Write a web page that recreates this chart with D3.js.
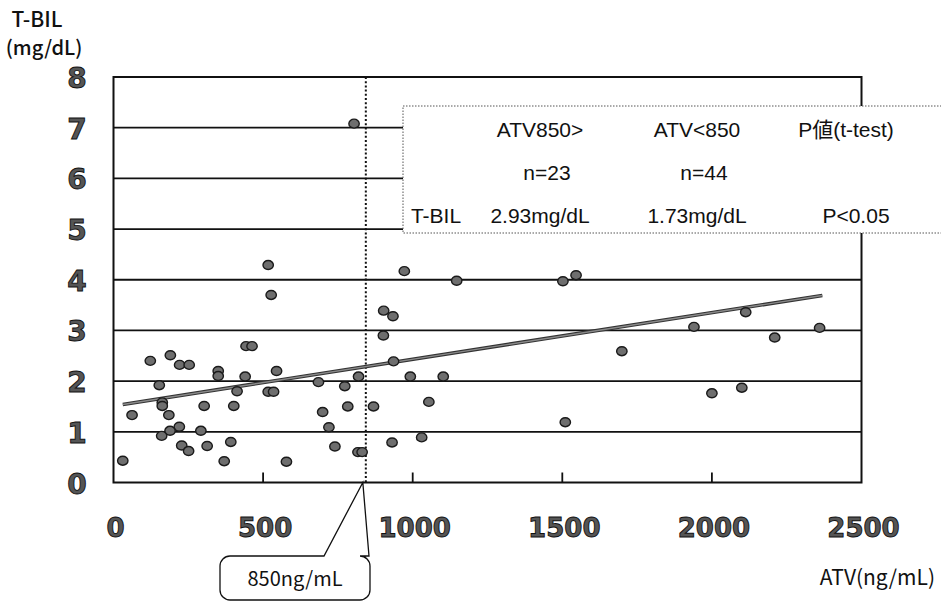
<!DOCTYPE html>
<html>
<head>
<meta charset="utf-8">
<script src="https://cdn.jsdelivr.net/npm/d3@7"></script>
<style>
  body { margin: 0; background: #fff; }
  svg { display: block; }
</style>
</head>
<body>
<svg id="chart" width="941" height="604"></svg>
<script>
// ATV (ng/mL) vs T-BIL (mg/dL)
var atv = [517,527,903,934,902,443,463,123,190,221,253,350,350,545,936,440,819,153,413,517,535,685,773,163,163,
           303,402,62,185,699,783,869,220,189,161,292,720,228,251,313,392,740,817,831,931,31,370,578,804,972,
           1147,1502,1546,992,1102,1054,1699,1510,1030,2113,1940,2360,2210,2100,2000];
var tbil = [4.29,3.70,3.39,3.28,2.90,2.69,2.69,2.40,2.51,2.32,2.32,2.20,2.10,2.20,2.39,2.09,2.09,1.92,1.80,1.79,1.79,1.98,1.90,1.58,1.51,
            1.51,1.51,1.33,1.33,1.39,1.50,1.50,1.10,1.02,0.92,1.02,1.09,0.73,0.62,0.72,0.80,0.71,0.60,0.60,0.79,0.43,0.42,0.41,7.08,4.17,
            3.98,3.97,4.09,2.09,2.09,1.59,2.59,1.19,0.89,3.36,3.07,3.05,2.86,1.87,1.76];

var xTicks = [0, 500, 1000, 1500, 2000, 2500];
var yTicks = [0, 1, 2, 3, 4, 5, 6, 7, 8];

// trend line end points
var trendAtv = [31, 2369];
var trendTbil = [1.54, 3.69];

var threshold = 850;

// summary table
var tableHead = ["", "ATV850>", "ATV<850", "P値(t-test)"];
var tableN = ["", "n=23", "n=44", ""];
var tableRow = ["T-BIL", "2.93mg/dL", "1.73mg/dL", "P<0.05"];

var svg = d3.select("#chart");

var x = d3.scaleLinear().domain([0, 2500]).range([113.5, 861.5]);
var y = d3.scaleLinear().domain([0, 8]).range([482.5, 77]);

var numFont = "'DejaVu Sans', sans-serif";
var txtFont = "'Noto Sans CJK JP', 'Noto Sans', sans-serif";

// horizontal grid lines
svg.append("g")
  .selectAll("line")
  .data(yTicks.filter(function(d){ return d > 0 && d < 8; }))
  .enter()
  .append("line")
  .attr("x1", x(0)).attr("x2", x(2500))
  .attr("y1", function(d){ return y(d); })
  .attr("y2", function(d){ return y(d); })
  .attr("stroke", "#111")
  .attr("stroke-width", 1.8);

// x ticks (inside, from the bottom)
svg.append("g")
  .selectAll("line")
  .data(xTicks.filter(function(d){ return d > 0 && d < 2500; }))
  .enter()
  .append("line")
  .attr("x1", function(d){ return x(d); })
  .attr("x2", function(d){ return x(d); })
  .attr("y1", y(0)).attr("y2", y(0) - 10)
  .attr("stroke", "#111")
  .attr("stroke-width", 1.8);

// plot frame
svg.append("rect")
  .attr("x", x(0)).attr("y", y(8))
  .attr("width", x(2500) - x(0))
  .attr("height", y(0) - y(8))
  .attr("fill", "none")
  .attr("stroke", "#111")
  .attr("stroke-width", 2);

// threshold dotted line
svg.append("line")
  .attr("x1", x(threshold) - 2).attr("x2", x(threshold) - 2)
  .attr("y1", y(8)).attr("y2", y(0))
  .attr("stroke", "#111")
  .attr("stroke-width", 2)
  .attr("stroke-dasharray", "2,2.2");

// trend line
var trend = d3.line()
  .x(function(d){ return x(d[0]); })
  .y(function(d){ return y(d[1]); });
var trendData = d3.zip(trendAtv, trendTbil);
svg.append("path")
  .attr("d", trend(trendData))
  .attr("fill", "none")
  .attr("stroke", "#333")
  .attr("stroke-width", 3.6);
svg.append("path")
  .attr("d", trend(trendData))
  .attr("fill", "none")
  .attr("stroke", "#8a8a8a")
  .attr("stroke-width", 1.4);

// points
svg.append("g")
  .selectAll("ellipse")
  .data(d3.zip(atv, tbil))
  .enter()
  .append("ellipse")
  .attr("cx", function(d){ return x(d[0]); })
  .attr("cy", function(d){ return y(d[1]); })
  .attr("rx", 5.2)
  .attr("ry", 4.5)
  .attr("fill", "#6e6e6e")
  .attr("stroke", "#1a1a1a")
  .attr("stroke-width", 1.4);

// y tick labels
svg.append("g")
  .selectAll("text")
  .data(yTicks)
  .enter()
  .append("text")
  .attr("x", 77)
  .attr("y", function(d){ return y(d) + 11; })
  .attr("text-anchor", "middle")
  .attr("font-family", numFont)
  .attr("font-weight", "bold")
  .attr("font-size", 28)
  .attr("fill", "#555")
  .attr("stroke", "#111")
  .attr("stroke-width", 0.9)
  .text(function(d){ return d; });

// x tick labels
svg.append("g")
  .selectAll("text")
  .data(xTicks)
  .enter()
  .append("text")
  .attr("x", function(d){ return x(d) + 2; })
  .attr("y", 537)
  .attr("text-anchor", "middle")
  .attr("font-family", numFont)
  .attr("font-weight", "bold")
  .attr("font-size", 26)
  .attr("fill", "#555")
  .attr("stroke", "#111")
  .attr("stroke-width", 0.9)
  .text(function(d){ return d; });

// axis titles
svg.append("text").attr("x", 37).attr("y", 27)
  .attr("text-anchor", "middle")
  .attr("font-family", txtFont).attr("font-size", 21).attr("font-weight", 500).attr("fill", "#111")
  .text("T-BIL");
svg.append("text").attr("x", 44).attr("y", 55)
  .attr("text-anchor", "middle")
  .attr("font-family", txtFont).attr("font-size", 20).attr("font-weight", 500).attr("fill", "#111")
  .text("(mg/dL)");
svg.append("text").attr("x", 935).attr("y", 585)
  .attr("text-anchor", "end")
  .attr("font-family", txtFont).attr("font-size", 21).attr("fill", "#111")
  .text("ATV(ng/mL)");

// callout box for the threshold
var apexX = x(threshold) - 5, apexY = y(0);
var bx0 = 220, bx1 = 370, by0 = 556, by1 = 600, r = 10;
var p = d3.path();
p.moveTo(bx0 + r, by0);
p.lineTo(324, by0);
p.lineTo(apexX, apexY);
p.lineTo(bx1 - 1, by0);
p.lineTo(bx1 - r, by0);
p.arcTo(bx1, by0, bx1, by0 + r, r);
p.lineTo(bx1, by1 - r);
p.arcTo(bx1, by1, bx1 - r, by1, r);
p.lineTo(bx0 + r, by1);
p.arcTo(bx0, by1, bx0, by1 - r, r);
p.lineTo(bx0, by0 + r);
p.arcTo(bx0, by0, bx0 + r, by0, r);
p.closePath();
svg.append("path")
  .attr("d", p.toString())
  .attr("fill", "#fff")
  .attr("stroke", "#111")
  .attr("stroke-width", 1.3);
svg.append("text").attr("x", 295).attr("y", 586)
  .attr("text-anchor", "middle")
  .attr("font-family", txtFont).attr("font-size", 20).attr("fill", "#111")
  .text("850ng/mL");

// summary table box
var tbl = svg.append("g");
tbl.append("rect")
  .attr("x", 403).attr("y", 106)
  .attr("width", 560).attr("height", 127)
  .attr("fill", "#fff")
  .attr("stroke", "#555")
  .attr("stroke-width", 1)
  .attr("stroke-dasharray", "1.5,1.5");

var colX = [436, 540, 697, 846];
var rows = [[tableHead, 137], [tableN, 180], [tableRow, 223]];
rows.forEach(function(row){
  tbl.append("g")
    .selectAll("text")
    .data(row[0])
    .enter()
    .append("text")
    .attr("x", function(d, i){ return colX[i] + (row[0] === tableN && i > 0 ? 7 : 0) + (row[0] === tableRow && i === 3 ? 10 : 0); })
    .attr("y", row[1])
    .attr("text-anchor", "middle")
    .attr("font-family", "'Liberation Sans', 'Noto Sans CJK JP', sans-serif")
    .attr("font-size", 21)
    .attr("fill", "#111")
    .text(function(d){ return d; });
});
</script>
</body>
</html>
